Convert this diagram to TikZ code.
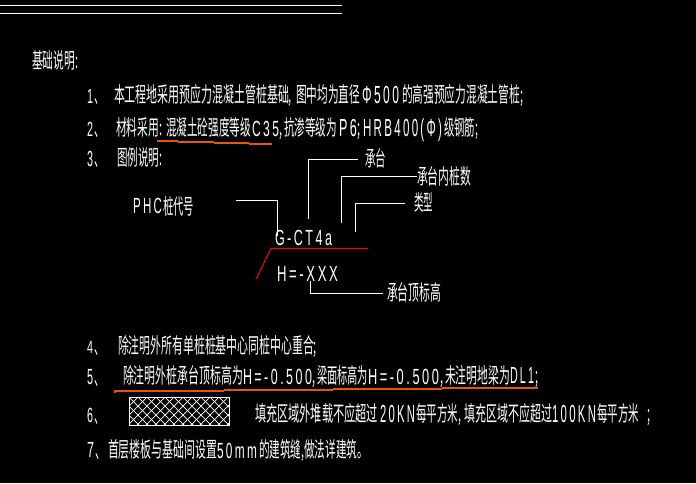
\documentclass[tikz,border=0pt]{standalone}
\usepackage{fontspec}
\usepackage{graphicx}
\setmainfont{Noto Sans CJK SC}
\newfontfamily\latf[LetterSpace=20]{Liberation Sans}
\definecolor{mark}{RGB}{232,84,10}
\definecolor{redline}{RGB}{255,0,0}
% \CJ{name}{x0}{x1}{baseline}{text}  CJK run squeezed to a width
\newcommand{\CJ}[5]{\node[txt] (#1) at (#2,#4) {\resizebox{\fpeval{#3-#2}pt}{18pt}{\rule{0pt}{7.9pt}\fontsize{10pt}{10pt}\selectfont #5}};}
% \LT{name}{x0}{x1}{baseline}{height}{text}  Latin run
\newcommand{\LT}[6]{\node[txt] (#1) at (#2,#4) {\resizebox{\fpeval{#3-#2}pt}{#5pt}{\rule{0pt}{7.3pt}\fontsize{10pt}{10pt}\selectfont\latf #6}};}
\begin{document}
\begin{tikzpicture}[x=1pt,y=-1pt,
  txt/.style={anchor=base west,inner sep=0pt,outer sep=0pt,text=white},
  wire/.style={draw=white,line width=0.9pt},
  markline/.style={draw=mark,line width=2pt},
  redwire/.style={draw=redline,line width=1pt},
  hatchline/.style={draw=white,line width=0.7pt}]
\fill[black] (0,0) rectangle (696,483);
\useasboundingbox (0,0) rectangle (696,483);
% top rules
\coordinate (ta) at (0,5.3); \coordinate (tb) at (342,5.3);
\coordinate (tc) at (0,13.5); \coordinate (td) at (342,13.5);
\draw[wire] (ta) -- (tb); \draw[wire] (tc) -- (td);
% heading
\CJ{head}{32}{78}{68}{基础说明:}
% line 1
\LT{n1}{87}{93}{103}{15}{1} \CJ{d1}{94}{104}{103}{、}
\CJ{a1}{114}{292}{102}{本工程地采用预应力混凝土管桩基础,}
\CJ{a2}{296}{360}{102}{图中均为直径}
\LT{a3}{362}{399}{103}{18}{Φ500}
\CJ{a4}{402}{523}{102}{的高强预应力混凝土管桩;}
% line 2
\LT{n2}{87}{93}{136}{15}{2} \CJ{d2}{94}{104}{136}{、}
\CJ{b1}{116}{162}{135}{材料采用:}
\CJ{b2}{166}{251}{135}{混凝土砼强度等级}
\LT{b3}{252}{279}{136}{16}{C35}
\CJ{b4}{279}{282}{135}{,}
\CJ{b5}{284}{337}{135}{抗渗等级为}
\LT{b6}{339}{357}{136}{18}{P6}
\CJ{b7}{357}{360}{135}{;}
\LT{b8}{363}{442}{136}{18}{HRB400(Φ)}
\CJ{b9}{444}{478}{135}{级钢筋;}
\draw[markline] (157,140.5) -- (178,140.5);
\draw[markline] (178,141.5) -- (214,141.5);
\draw[markline] (214,142.5) -- (249,142.5);
\draw[markline] (249,143.5) -- (272,143.5);
% line 3
\LT{n3}{87}{93}{166}{16}{3} \CJ{d3}{94}{104}{166}{、}
\CJ{c1}{117}{162}{165}{图例说明:}
% legend
\LT{phc}{133}{162}{213}{16}{PHC}
\CJ{phcb}{163}{194}{214}{桩代号}
\LT{code}{275}{332}{245}{16}{G-CT4a}
\LT{elev}{277}{338}{281}{16}{H=-XXX}
\CJ{lb1}{365}{386}{166}{承台}
\CJ{lb2}{417}{471}{184}{承台内桩数}
\CJ{lb3}{414}{433}{210}{类型}
\CJ{lb4}{387}{441}{300}{承台顶标高}
\coordinate (p1) at (236,200.3); \coordinate (p2) at (277.3,236);
\draw[wire] (p1) -| (p2);
\coordinate (q1) at (308.5,219); \coordinate (q2) at (358,159.5);
\draw[wire] (q1) |- (q2);
\coordinate (r1) at (341.5,223); \coordinate (r2) at (417,176.5);
\draw[wire] (r1) |- (r2);
\coordinate (s1) at (355.5,232); \coordinate (s2) at (405,203);
\draw[wire] (s1) |- (s2);
\coordinate (u1) at (310.5,281); \coordinate (u2) at (383,293.5);
\draw[wire] (u1) |- (u2);
\coordinate (v1) at (256,279); \coordinate (v2) at (271,248.3); \coordinate (v3) at (368,248.3);
\draw[redwire] (v1) -- (v2) -- (v3);
% line 4
\LT{n4}{87}{93}{353}{13}{4} \CJ{d4}{94}{104}{354}{、}
\CJ{e1}{118}{317}{353}{除注明外所有单桩桩基中心同桩中心重合;}
% line 5
\LT{n5}{87}{93}{384}{16}{5} \CJ{d5}{94}{104}{385}{、}
\CJ{f1}{123}{243}{383}{除注明外桩承台顶标高为}
\LT{f2}{243}{312}{384}{16}{H=-0.500}
\CJ{f3}{312}{315}{383}{,}
\CJ{f4}{317}{368}{383}{梁面标高为}
\LT{f5}{368}{439}{384}{16}{H=-0.500}
\CJ{f6}{440}{443}{383}{,}
\CJ{f7}{445}{510}{383}{未注明地梁为}
\LT{f8}{510}{534}{383}{17}{DL1}
\CJ{f9}{535}{538}{383}{;}
\draw[markline] (114.5,393) -- (114.5,391) -- (224,391);
\draw[markline] (224,390) -- (333,390);
\draw[markline] (333,389) -- (442,389);
\draw[markline] (442,388) -- (538,388);
% line 6
\LT{n6}{87}{93}{422}{15}{6} \CJ{d6}{94}{104}{423}{、}
\begin{scope}
\clip (129.5,397.5) rectangle (229.5,425.5);
\foreach \k in {-4,...,16}{
  \draw[hatchline] ({120+9*\k},397) -- ++(29,29);
  \draw[hatchline] ({120+9*\k},397) -- ++(-29,29);
}
\end{scope}
\draw[wire] (129.5,397.5) rectangle (229.5,425.5);
\CJ{g1}{255}{378}{421}{填充区域外堆载不应超过}
\LT{g2}{380}{415}{422}{18}{20KN}
\CJ{g3}{416}{461}{421}{每平方米,}
\CJ{g4}{464}{552}{421}{填充区域不应超过}
\LT{g5}{552}{596}{422}{18}{100KN}
\CJ{g6}{597}{639}{421}{每平方米}
\CJ{g7}{647}{650}{421}{;}
% line 7
\LT{n7}{87}{94}{457}{16}{7} \CJ{d7}{95}{105}{458}{、}
\CJ{h1}{108}{217}{457}{首层楼板与基础间设置}
\LT{h2}{217}{257}{458}{16}{50mm}
\CJ{h3}{259}{368}{457}{的建筑缝,做法详建筑。}
\end{tikzpicture}
\end{document}
